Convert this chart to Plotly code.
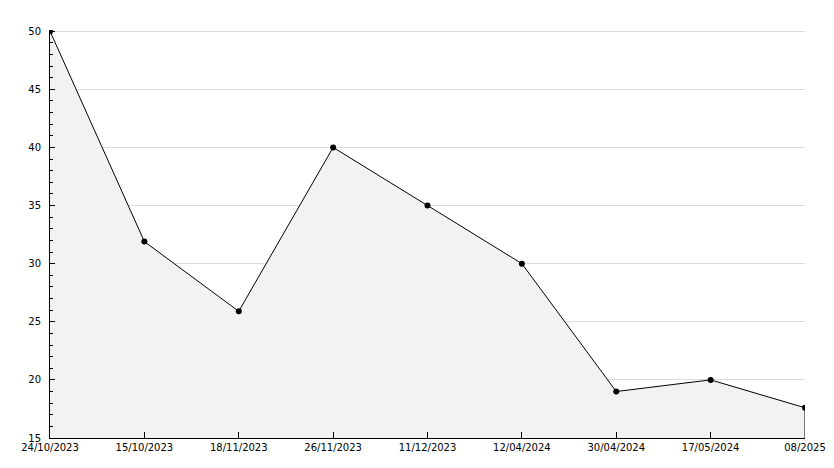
import plotly.graph_objects as go

categories = ["24/10/2023", "15/10/2023", "18/11/2023", "26/11/2023", "11/12/2023",
              "12/04/2024", "30/04/2024", "17/05/2024", "08/2025"]
values = [50, 31.9, 25.9, 40, 35, 30, 19, 20, 17.6]
y_min, y_max = 15, 50
y_ticks = [15, 20, 25, 30, 35, 40, 45, 50]

fig = go.Figure()
# filled area with closing vertical edge at the last category
fig.add_trace(go.Scatter(
    x=categories + [categories[-1]],
    y=values + [y_min],
    mode="lines",
    line=dict(color="black", width=1),
    fill="tozeroy",
    fillcolor="#f2f2f2",
    hoverinfo="skip",
    showlegend=False,
))
fig.add_trace(go.Scatter(
    x=categories, y=values, mode="markers",
    marker=dict(color="black", size=6, symbol="circle"),
    showlegend=False,
))

font = dict(family="DejaVu Sans", size=10, color="black")
fig.update_layout(
    width=834, height=468,
    margin=dict(l=50, r=29, t=30, b=30, autoexpand=False),
    paper_bgcolor="white", plot_bgcolor="white",
    font=font,
    xaxis=dict(
        type="category", range=[0, len(categories) - 1],
        showgrid=False, showline=True, linecolor="black", linewidth=1,
        ticks="inside", ticklen=6, tickcolor="black",
        tickfont=font, zeroline=False,
    ),
    yaxis=dict(
        range=[y_min, y_max + 0.1], tickvals=y_ticks,
        showgrid=True, gridcolor="#dcdcdc", gridwidth=1,
        showline=True, linecolor="black", linewidth=1,
        ticks="inside", ticklen=5, tickcolor="black",
        ticklabelstandoff=6,
        minor=dict(dtick=1, ticks="inside", ticklen=3, tickcolor="black", showgrid=False),
        tickfont=font, zeroline=False,
    ),
)
fig.write_html("out.html", post_script="document.body.style.margin='0';",
               config={"displayModeBar": False})
